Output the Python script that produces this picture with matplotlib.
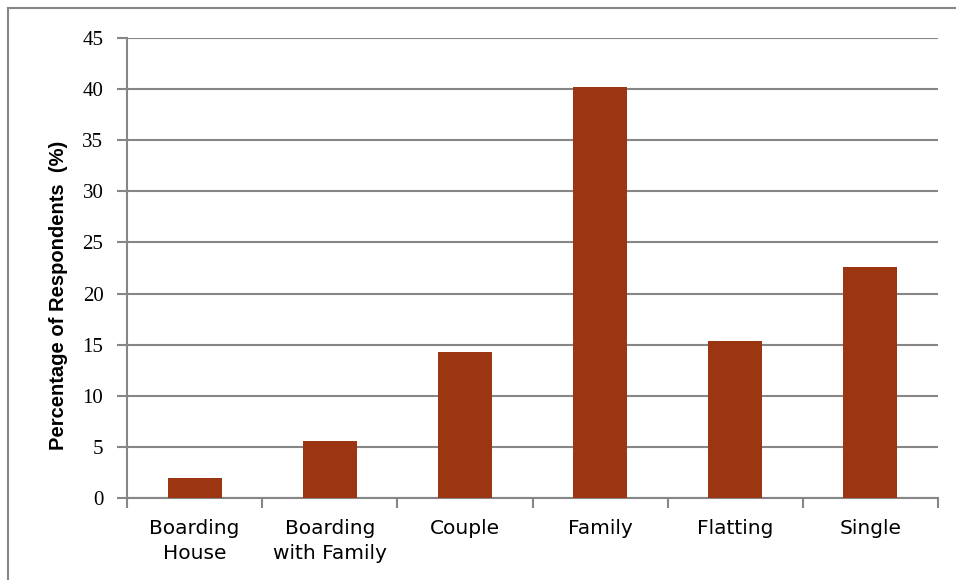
import matplotlib
matplotlib.use("Agg")
import matplotlib.pyplot as plt
from matplotlib.patches import Rectangle

# data
categories = ["Boarding\nHouse", "Boarding\nwith Family", "Couple", "Family", "Flatting", "Single"]
values = [2.0, 5.6, 14.3, 40.2, 15.4, 22.6]
y_ticks = [0, 5, 10, 15, 20, 25, 30, 35, 40, 45]

bar_color = "#9C3612"
line_color = "#868686"

fig = plt.figure(figsize=(9.56, 5.8), dpi=100)
ax = fig.add_axes([127 / 956, 1 - 498 / 580, (938 - 127) / 956, (498 - 38) / 580])

# outer frame around the chart
fig.patches.append(Rectangle((8 / 956, -0.1), 1.2, 1.1 - 8 / 580,
                             transform=fig.transFigure, fill=False,
                             edgecolor=line_color, linewidth=1.5))

x = list(range(len(categories)))
ax.bar(x, values, width=0.4, color=bar_color, zorder=3)

ax.set_xlim(-0.5, len(categories) - 0.5)
ax.set_ylim(0, 45)
ax.set_yticks(y_ticks)
ax.set_yticklabels([str(v) for v in y_ticks], fontfamily="Liberation Serif", fontsize=15)
ax.yaxis.grid(True, color=line_color, linewidth=1.5, zorder=0)

ax.set_xticks(x)
ax.set_xticklabels(categories, fontfamily="DejaVu Sans", fontsize=14.5, linespacing=1.4)
ax.tick_params(axis="x", length=0, pad=15)
ax.set_xticks([i - 0.5 for i in range(len(categories) + 1)], minor=True)
ax.tick_params(axis="x", which="minor", length=7, width=1.5, color=line_color)
ax.tick_params(axis="y", length=7, width=1.5, color=line_color, pad=10)

for s in ["top", "right"]:
    ax.spines[s].set_visible(False)
for s in ["left", "bottom"]:
    ax.spines[s].set_color(line_color)
    ax.spines[s].set_linewidth(1.5)

ax.set_ylabel("Percentage of Respondents  (%)", fontfamily="Liberation Sans",
              fontweight="bold", fontsize=14.5)
ax.yaxis.set_label_coords((68 - 127) / 811, (498 - 295) / 460)

fig.savefig("out.png", dpi=100)
